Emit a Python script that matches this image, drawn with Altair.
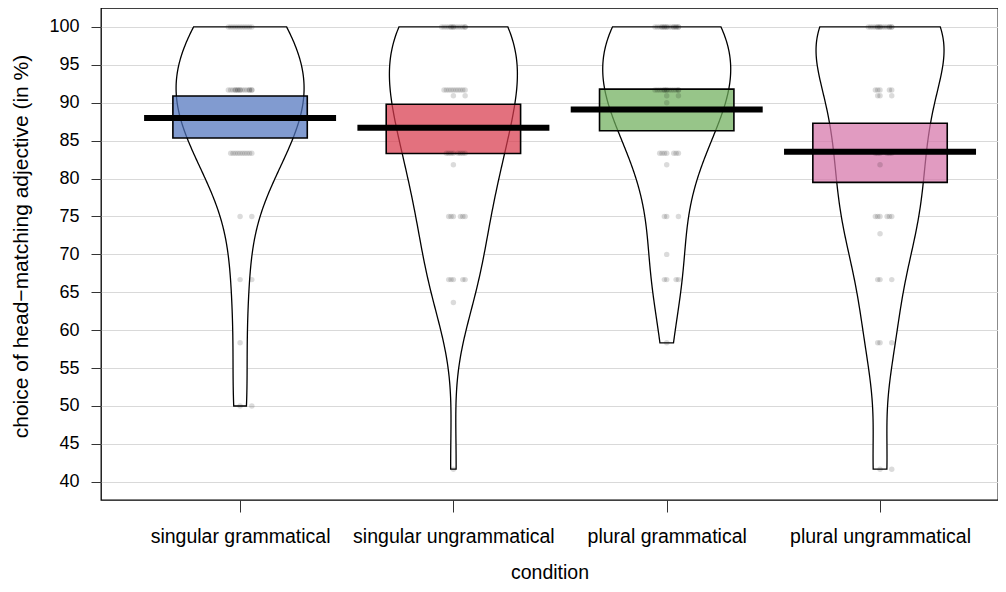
import altair as alt
import pandas as pd

conditions = ["singular grammatical", "singular ungrammatical",
              "plural grammatical", "plural ungrammatical"]
bar_colors = ["#5074BE", "#D83A4C", "#6FAE5C", "#D574A9"]

# per-participant percentages (level, how many participants)
sg_levels = [100, 91.67, 83.33, 75, 66.67, 58.33, 50]
sg_counts = [11, 16, 10, 2, 2, 1, 2]
su_levels = [100, 91.67, 90.91, 83.33, 81.82, 75, 66.67, 63.64, 41.67]
su_counts = [14, 10, 2, 8, 1, 6, 5, 1, 1]
pg_levels = [100, 91.67, 90.91, 90, 83.33, 81.82, 75, 70, 66.67, 58.33]
pg_counts = [17, 14, 2, 1, 7, 1, 3, 1, 4, 1]
pu_levels = [100, 91.67, 90.91, 83.33, 81.82, 75, 72.73, 66.67, 58.33, 41.67]
pu_counts = [15, 5, 3, 6, 1, 6, 1, 3, 3, 2]

means = [88.0, 86.7, 89.1, 83.55]
hdi_low = [85.35, 83.3, 86.3, 79.5]
hdi_high = [90.9, 89.8, 91.8, 87.3]

bandwidths = [6.5, 7.0, 6.5, 6.5]

y_ticks = [40, 45, 50, 55, 60, 65, 70, 75, 80, 85, 90, 95, 100]

groups = [(sg_levels, sg_counts), (su_levels, su_counts),
          (pg_levels, pg_counts), (pu_levels, pu_counts)]
rows = []
for i, (lv, ct) in enumerate(groups):
    for v, c in zip(lv, ct):
        for _ in range(c):
            rows.append({"cond": i + 1, "value": v})
points = pd.DataFrame(rows)

summary = pd.DataFrame({
    "cond": [1, 2, 3, 4],
    "name": conditions,
    "mean": means,
    "low": hdi_low,
    "high": hdi_high,
})

FONT = "Liberation Sans"
xscale = alt.Scale(domain=[0.348, 4.553], nice=False, zero=False)
yscale = alt.Scale(domain=[37.6, 102.5], nice=False, zero=False)

label_expr = ("datum.value == 1 ? 'singular grammatical' : datum.value == 2 ? "
              "'singular ungrammatical' : datum.value == 3 ? 'plural grammatical' : "
              "'plural ungrammatical'")

x_axis = alt.Axis(values=[1, 2, 3, 4], labelExpr=label_expr, title="condition",
                  grid=False, domain=False, tickSize=12, tickColor="#333333",
                  labelPadding=15, labelFontSize=19.5, titleFontSize=19.5,
                  titlePadding=17.5, labelFont=FONT, titleFont=FONT, labelLimit=0,
                  labelColor="black", titleColor="black", titleFontWeight="normal")
y_axis = alt.Axis(values=y_ticks, title="choice of head\u2212matching adjective (in %)",
                  grid=True, gridColor="#d9d9d9", gridWidth=1, domain=False,
                  tickSize=10, tickColor="#333333", labelPadding=12,
                  labelFontSize=18, titleFontSize=21, titlePadding=17, titleY=238,
                  labelFont=FONT, titleFont=FONT, labelColor="black",
                  titleColor="black", titleFontWeight="normal")

base_pts = alt.Chart(points)

violins = []
for i, (lv, ct) in enumerate(groups):
    v = base_pts.transform_filter(
        alt.datum.cond == i + 1
    ).transform_density(
        "value", groupby=["cond"], as_=["value", "density"], steps=200,
        bandwidth=bandwidths[i], extent=[min(lv), max(lv)]
    ).transform_joinaggregate(
        maxd="max(density)", groupby=["cond"]
    ).transform_calculate(
        lo="datum.cond - datum.density / datum.maxd * 0.30",
        hi="datum.cond + datum.density / datum.maxd * 0.30",
    ).mark_area(orient="horizontal", fill="white", stroke="black", strokeWidth=1.3).encode(
        y=alt.Y("value:Q", scale=yscale, axis=y_axis),
        x=alt.X("lo:Q", scale=xscale, axis=x_axis),
        x2="hi:Q",
    )
    violins.append(v)

boxes = alt.Chart(summary).transform_calculate(
    x1="datum.cond - 0.315", x2="datum.cond + 0.315"
).mark_rect(fillOpacity=0.72, stroke="black", strokeWidth=1.6).encode(
    x=alt.X("x1:Q", scale=xscale),
    x2="x2:Q",
    y=alt.Y("low:Q", scale=yscale),
    y2="high:Q",
    fill=alt.Fill("name:N", scale=alt.Scale(domain=conditions, range=bar_colors), legend=None),
)

dots = base_pts.transform_window(
    rn="row_number()", groupby=["cond", "value"]
).transform_calculate(
    xj="datum.cond + ((datum.rn * 5) % 11 - 5) * 0.011"
).mark_circle(size=30, color="black", opacity=0.14).encode(
    x=alt.X("xj:Q", scale=xscale),
    y=alt.Y("value:Q", scale=yscale),
)

mean_line = alt.Chart(summary).transform_calculate(
    x1="datum.cond - 0.45", x2="datum.cond + 0.45"
).mark_rule(color="black", strokeWidth=6).encode(
    x=alt.X("x1:Q", scale=xscale),
    x2="x2:Q",
    y=alt.Y("mean:Q", scale=yscale),
)

chart = alt.layer(*violins, boxes, dots, mean_line).properties(
    width=897, height=492,
    padding={"left": 2, "top": 0, "right": 0, "bottom": 0},
).configure_view(stroke="black", strokeWidth=1.3)

chart.save("out.html", embed_options={"renderer": "svg", "actions": False})
